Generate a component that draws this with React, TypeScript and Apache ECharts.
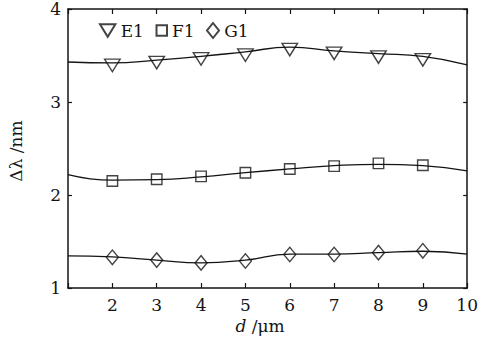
import React, { useEffect, useRef } from "react";
import * as echarts from "echarts";

// Measured shift Δλ (nm) against d (μm) for three samples
const markerD = [2, 3, 4, 5, 6, 7, 8, 9];
const e1Values = [3.42, 3.45, 3.49, 3.53, 3.59, 3.55, 3.51, 3.48];
const f1Values = [2.15, 2.17, 2.2, 2.24, 2.28, 2.31, 2.34, 2.32];
const g1Values = [1.33, 1.3, 1.27, 1.29, 1.36, 1.36, 1.38, 1.4];

// Fitted curves across the full d range
const fitD = [1, 2, 3, 4, 5, 6, 7, 8, 9, 10];
const e1Fit = [3.43, 3.42, 3.45, 3.49, 3.54, 3.59, 3.55, 3.52, 3.49, 3.4];
const f1Fit = [2.22, 2.16, 2.165, 2.195, 2.24, 2.28, 2.315, 2.33, 2.315, 2.26];
const g1Fit = [1.345, 1.335, 1.3, 1.27, 1.3, 1.365, 1.365, 1.38, 1.395, 1.365];

const xTickLabels = ["2", "3", "4", "5", "6", "7", "8", "9", "10"];
const yTickLabels = ["1", "2", "3", "4"];

const FONT = "DejaVu Serif";
const INK = "#141414";
const FS = 17;

const TRI_DOWN = "path://M0,0L16,0L8,13Z";
const SQUARE = "path://M0,0L10,0L10,10L0,10Z";
const DIAMOND = "path://M6,0L12,7.5L6,15L0,7.5Z";

const pairs = (xs: number[], ys: number[]) => xs.map((x, i) => [x, ys[i]]);

export default function App() {
  const ref = useRef<HTMLDivElement>(null);

  useEffect(() => {
    if (!ref.current) return;
    const chart = echarts.init(ref.current, null, { renderer: "svg" });

    const fitLine = (name: string, ys: number[]) => ({
      name,
      type: "line",
      data: pairs(fitD, ys),
      smooth: 0.5,
      showSymbol: false,
      symbol: "none",
      lineStyle: { color: INK, width: 1.3 },
      silent: true,
      z: 2,
    });

    const markers = (
      name: string,
      ys: number[],
      symbol: string,
      size: number[],
      offset: number[]
    ) => ({
      name,
      type: "scatter",
      data: pairs(markerD, ys),
      symbol,
      symbolSize: size,
      symbolOffset: offset,
      symbolKeepAspect: false,
      itemStyle: { color: "transparent", borderColor: INK, borderWidth: 1.4 },
      silent: true,
      z: 3,
    });

    const legendBase = {
      top: 22,
      padding: 0,
      selectedMode: false,
      itemGap: 0,
      textStyle: { fontFamily: FONT, fontSize: FS, color: INK },
    };

    const axisLineStyle = { lineStyle: { color: INK, width: 1.5 } };

    chart.setOption({
      animation: false,
      backgroundColor: "#ffffff",
      grid: { left: 68, right: 9, top: 9, bottom: 52 },
      legend: [
        { ...legendBase, data: ["E1"], left: 99, itemWidth: 16, itemHeight: 12.5 },
        { ...legendBase, data: ["F1"], left: 155.5, itemWidth: 10.5, itemHeight: 10.5 },
        { ...legendBase, data: ["G1"], left: 206, itemWidth: 12.5, itemHeight: 15 },
      ],
      xAxis: [
        {
          type: "value",
          min: 1,
          max: 10,
          interval: 1,
          position: "bottom",
          axisLine: axisLineStyle,
          axisTick: { inside: true, length: 5, lineStyle: { color: INK, width: 1.2 } },
          axisLabel: {
            margin: 8,
            fontFamily: FONT,
            fontSize: FS,
            color: INK,
            formatter: (v: number) => (xTickLabels.includes(String(v)) ? String(v) : ""),
          },
          splitLine: { show: false },
        },
        {
          type: "value",
          min: 1,
          max: 10,
          interval: 1,
          position: "top",
          axisLine: axisLineStyle,
          axisTick: { inside: true, length: 5, lineStyle: { color: INK, width: 1.2 } },
          axisLabel: { show: false },
          splitLine: { show: false },
        },
      ],
      yAxis: [
        {
          type: "value",
          min: 1,
          max: 4,
          interval: 1,
          position: "left",
          axisLine: { show: true, ...axisLineStyle },
          axisTick: { show: true, inside: true, length: 4, lineStyle: { color: INK, width: 1.2 } },
          axisLabel: {
            margin: 7,
            fontFamily: FONT,
            fontSize: FS,
            color: INK,
            formatter: (v: number) => (yTickLabels.includes(String(v)) ? String(v) : ""),
          },
          splitLine: { show: false },
        },
        {
          type: "value",
          min: 1,
          max: 4,
          interval: 1,
          position: "right",
          axisLine: { show: true, ...axisLineStyle },
          axisTick: { show: true, inside: true, length: 4, lineStyle: { color: INK, width: 1.2 } },
          axisLabel: { show: false },
          splitLine: { show: false },
        },
      ],
      series: [
        fitLine("E1 fit", e1Fit),
        fitLine("F1 fit", f1Fit),
        fitLine("G1 fit", g1Fit),
        markers("E1", e1Values, TRI_DOWN, [15.5, 12.5], [0, 2.5]),
        markers("F1", f1Values, SQUARE, [10.5, 10.5], [0, 0]),
        markers("G1", g1Values, DIAMOND, [12, 14.5], [0, 0]),
      ],
      graphic: [
        {
          type: "text",
          x: 16,
          y: 151,
          rotation: Math.PI / 2,
          style: {
            text: "Δλ /nm",
            fontFamily: FONT,
            fontSize: FS,
            fill: INK,
            align: "center",
            verticalAlign: "middle",
          },
        },
        {
          type: "text",
          x: 260,
          y: 326,
          style: {
            text: "{i|d} /μm",
            fontFamily: FONT,
            fontSize: FS,
            fill: INK,
            align: "center",
            verticalAlign: "middle",
            rich: {
              i: { fontFamily: FONT, fontSize: FS, fontStyle: "italic", fill: INK },
            },
          },
        },
      ],
    });

    return () => chart.dispose();
  }, []);

  return (
    <div
      ref={ref}
      style={{ position: "fixed", left: 0, top: 0, width: 481, height: 340, background: "#fff" }}
    />
  );
}
